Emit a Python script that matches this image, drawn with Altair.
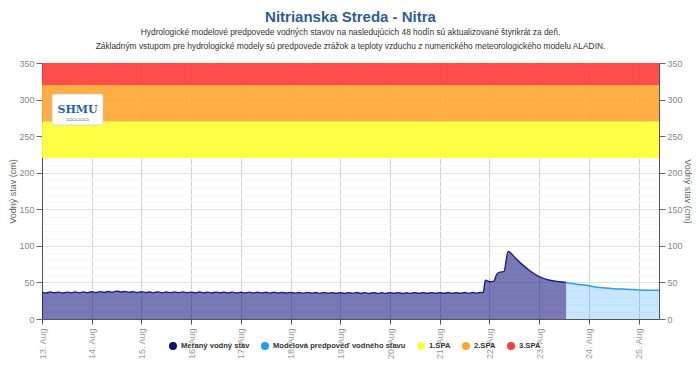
import altair as alt
import pandas as pd

# ---------------- data ----------------
# measured water level, 2-hourly from 13 Aug 00:00 to 21 Aug 20:00 (cm)
base_start = "2024-08-13T00:00"
base_values = [
    36.8, 35.6, 36.9, 35.8, 36.7, 35.5, 36.8, 35.9, 37.0, 35.7, 36.9, 36.0,
    37.2, 36.0, 37.4, 36.3, 37.6, 36.6, 38.1, 37.0, 37.6, 36.5, 37.3, 36.2,
    37.2, 36.1, 37.0, 36.0, 37.1, 35.9, 36.9, 36.0, 37.0, 35.8, 36.9, 35.9,
    36.8, 35.7, 36.9, 35.8, 36.7, 35.6, 36.8, 35.9, 36.6, 35.7, 36.7, 35.6,
    36.6, 35.6, 36.7, 35.5, 36.5, 35.6, 36.6, 35.4, 36.5, 35.5, 36.4, 35.5,
    36.4, 35.3, 36.3, 35.2, 36.4, 35.3, 36.2, 35.1, 36.3, 35.2, 36.1, 35.0,
    36.1, 35.0, 36.0, 35.1, 36.2, 35.0, 36.0, 34.9, 36.1, 35.0, 35.9, 35.0,
    36.0, 35.0, 36.1, 34.9, 35.9, 35.0, 36.0, 35.1, 36.1, 35.0, 36.0, 35.1,
    36.1, 35.0, 36.2, 35.1, 36.0, 35.2, 36.3, 35.1, 36.2, 35.3, 36.4,
]
# measured flood wave
peak_times = [
    "2024-08-21T21:00", "2024-08-21T22:00", "2024-08-22T00:00", "2024-08-22T02:00",
    "2024-08-22T03:30", "2024-08-22T05:00", "2024-08-22T07:00", "2024-08-22T09:00",
    "2024-08-22T10:00", "2024-08-22T11:00", "2024-08-22T13:00", "2024-08-22T16:00",
    "2024-08-22T20:00", "2024-08-23T00:00", "2024-08-23T05:00", "2024-08-23T10:00",
    "2024-08-23T13:00",
]
peak_values = [36.0, 53.0, 51.0, 51.5, 61.0, 64.0, 65.0, 92.5,
               91.0, 88.0, 82.0, 74.0, 65.0, 58.0, 53.0, 51.0, 50.0]

# model forecast
fc_times = [
    "2024-08-23T13:00", "2024-08-23T18:00", "2024-08-24T00:00", "2024-08-24T04:00",
    "2024-08-24T08:00", "2024-08-24T12:00", "2024-08-24T18:00", "2024-08-25T00:00",
    "2024-08-25T06:00", "2024-08-25T09:50",
]
fc_values = [49.5, 47.5, 45.5, 43.5, 42.5, 41.5, 40.7, 39.8, 39.3, 39.3]

# flood activity levels (SPA)
spa_names = ["1.SPA", "2.SPA", "3.SPA"]
spa_low = [220, 270, 320]
spa_high = [270, 320, 350]

series_names = ["Meraný vodný stav", "Modelová predpoveď vodného stavu",
                "1.SPA", "2.SPA", "3.SPA"]
series_colors = ["#0b0b7a", "#1a9cff", "#ffff33", "#ffa733", "#ff3d3d"]

title_text = "Nitrianska Streda - Nitra"
subtitle_lines = [
    "Hydrologické modelové predpovede vodných stavov na nasledujúcich 48 hodín sú aktualizované štyrikrát za deň.",
    "Základným vstupom pre hydrologické modely sú predpovede zrážok a teploty vzduchu z numerického meteorologického modelu ALADIN.",
]
y_title = "Vodný stav (cm)"

# ---------------- tables ----------------
base_times = pd.date_range(base_start, periods=len(base_values), freq="2h")
measured = pd.DataFrame({
    "t": list(base_times.strftime("%Y-%m-%dT%H:%M")) + peak_times,
    "v": base_values + peak_values,
})
measured["series"] = series_names[0]
forecast = pd.DataFrame({"t": fc_times, "v": fc_values, "series": series_names[1]})
bands = pd.DataFrame({"lo": spa_low, "hi": spa_high, "series": spa_names})
titles = pd.DataFrame({"text": [title_text], "pos": [-46]})
subs = pd.DataFrame({"text": subtitle_lines, "pos": [-31.5, -17.5]})

W, H = 617, 256

x_scale = alt.Scale(domain=[alt.DateTime(year=2024, month=8, date=13, hours=0),
                            alt.DateTime(year=2024, month=8, date=25, hours=9, minutes=50)],
                    nice=False)
y_scale = alt.Scale(domain=[0, 350], nice=False)
color_scale = alt.Scale(domain=series_names, range=series_colors)

grid_color_expr = {"expr": "datum.value % 50 == 0 ? '#e3e3e3' : '#f7f7f7'"}
tick_color_expr = {"expr": "datum.value % 50 == 0 ? '#666666' : 'transparent'"}
y_vals = list(range(0, 351, 10))

left_axis = alt.Axis(values=y_vals, labelExpr="datum.value % 50 == 0 ? datum.label : ''",
                     gridColor=grid_color_expr, tickColor=tick_color_expr,
                     title=y_title, titleFontWeight="normal", titleFontSize=9,
                     titleColor="#666666", titlePadding=1, labelColor="#888888",
                     labelFontSize=9, domainColor="#555555", tickSize=6, orient="left")
right_axis = alt.Axis(values=list(range(0, 351, 50)), grid=False,
                      title=y_title, titleFontWeight="normal", titleFontSize=9,
                      titleColor="#666666", titlePadding=0, titleAngle=90,
                      labelColor="#888888", labelFontSize=9, domainColor="#555555",
                      tickColor="#666666", tickSize=6, orient="right")
x_axis = alt.Axis(format="%-d. %b", tickCount={"interval": "day", "step": 1},
                  labelAngle=270, labelColor="#999999", labelFontSize=9,
                  gridColor="#d0d0d0", domainColor="#555555", tickColor="#555555",
                  tickSize=5, title=None, labelPadding=4)

legend = alt.Legend(title=None, orient="none", legendX=127, legendY=279,
                    direction="horizontal", symbolType="circle", symbolSize=64,
                    symbolOpacity=1, labelFont="Liberation Sans", labelFontWeight="bold",
                    labelFontSize=7.6, labelColor="#333333", columnPadding=11,
                    symbolStrokeWidth=0, labelOffset=4)

band_layer = alt.Chart(bands).mark_rect(opacity=0.92).encode(
    x=alt.value(0), x2=alt.value(W),
    y=alt.Y("lo:Q", scale=y_scale, axis=left_axis),
    y2="hi:Q",
    color=alt.Color("series:N", scale=color_scale, legend=legend),
)

meas_area = alt.Chart(measured).mark_area(fillOpacity=0.55, interpolate="monotone").encode(
    x=alt.X("t:T", scale=x_scale, axis=x_axis),
    y=alt.Y("v:Q", scale=y_scale, axis=right_axis),
    color=alt.Color("series:N", scale=color_scale, legend=legend),
)
fc_area = alt.Chart(forecast).mark_area(fillOpacity=0.24, interpolate="monotone").encode(
    x=alt.X("t:T", scale=x_scale),
    y=alt.Y("v:Q", scale=y_scale, axis=None),
    color=alt.Color("series:N", scale=color_scale, legend=legend),
)
meas_line = alt.Chart(measured).mark_line(color="#1c1c8c", strokeWidth=1.4,
                                          interpolate="monotone").encode(
    x=alt.X("t:T", scale=x_scale),
    y=alt.Y("v:Q", scale=y_scale, axis=None),
)
fc_line = alt.Chart(forecast).mark_line(color="#2b9cf2", strokeWidth=1.5,
                                        interpolate="monotone").encode(
    x=alt.X("t:T", scale=x_scale),
    y=alt.Y("v:Q", scale=y_scale, axis=None),
)

logo_src = alt.Data(values=[{"name": "SHMU"}])
logo_box = alt.Chart(logo_src).mark_rect(fill="white", stroke="#cccccc",
                                         strokeWidth=0.8, cornerRadius=2).encode(
    x=alt.value(10), x2=alt.value(61), y=alt.value(31), y2=alt.value(62))
logo_text = alt.Chart(logo_src).mark_text(font="DejaVu Serif", fontWeight="bold",
                                          fontSize=11, color="#1f5fc4").encode(
    x=alt.value(35.5), y=alt.value(47), text="name:N")
logo_wave = alt.Chart(alt.Data(values=[{"w": "≈≈≈≈≈≈"}])).mark_text(
    fontSize=7, color="#1f5fc4").encode(x=alt.value(35.5), y=alt.value(57), text="w:N")

title_layer = alt.Chart(titles).mark_text(
    font="Liberation Sans", fontSize=15, fontWeight="bold", color="#2f5b9e",
    baseline="middle").encode(x=alt.value(W / 2), y=alt.Y("pos:Q", scale=None),
                              text="text:N")
sub_layer = alt.Chart(subs).mark_text(
    font="Liberation Sans", fontSize=8.4, color="#333333",
    baseline="middle").encode(x=alt.value(W / 2), y=alt.Y("pos:Q", scale=None),
                              text="text:N")

chart = alt.layer(
    band_layer, meas_area, fc_area, meas_line, fc_line,
    logo_box, logo_text, logo_wave, title_layer, sub_layer,
).resolve_axis(y="independent").resolve_scale(y="independent").properties(
    width=W, height=H,
    autosize=alt.AutoSizeParams(type="none"),
    padding={"left": 34, "top": 55, "right": 33, "bottom": 52},
).configure_view(stroke=None).configure(background="white")

chart.save("out.html", embed_options={"renderer": "svg", "actions": False})
